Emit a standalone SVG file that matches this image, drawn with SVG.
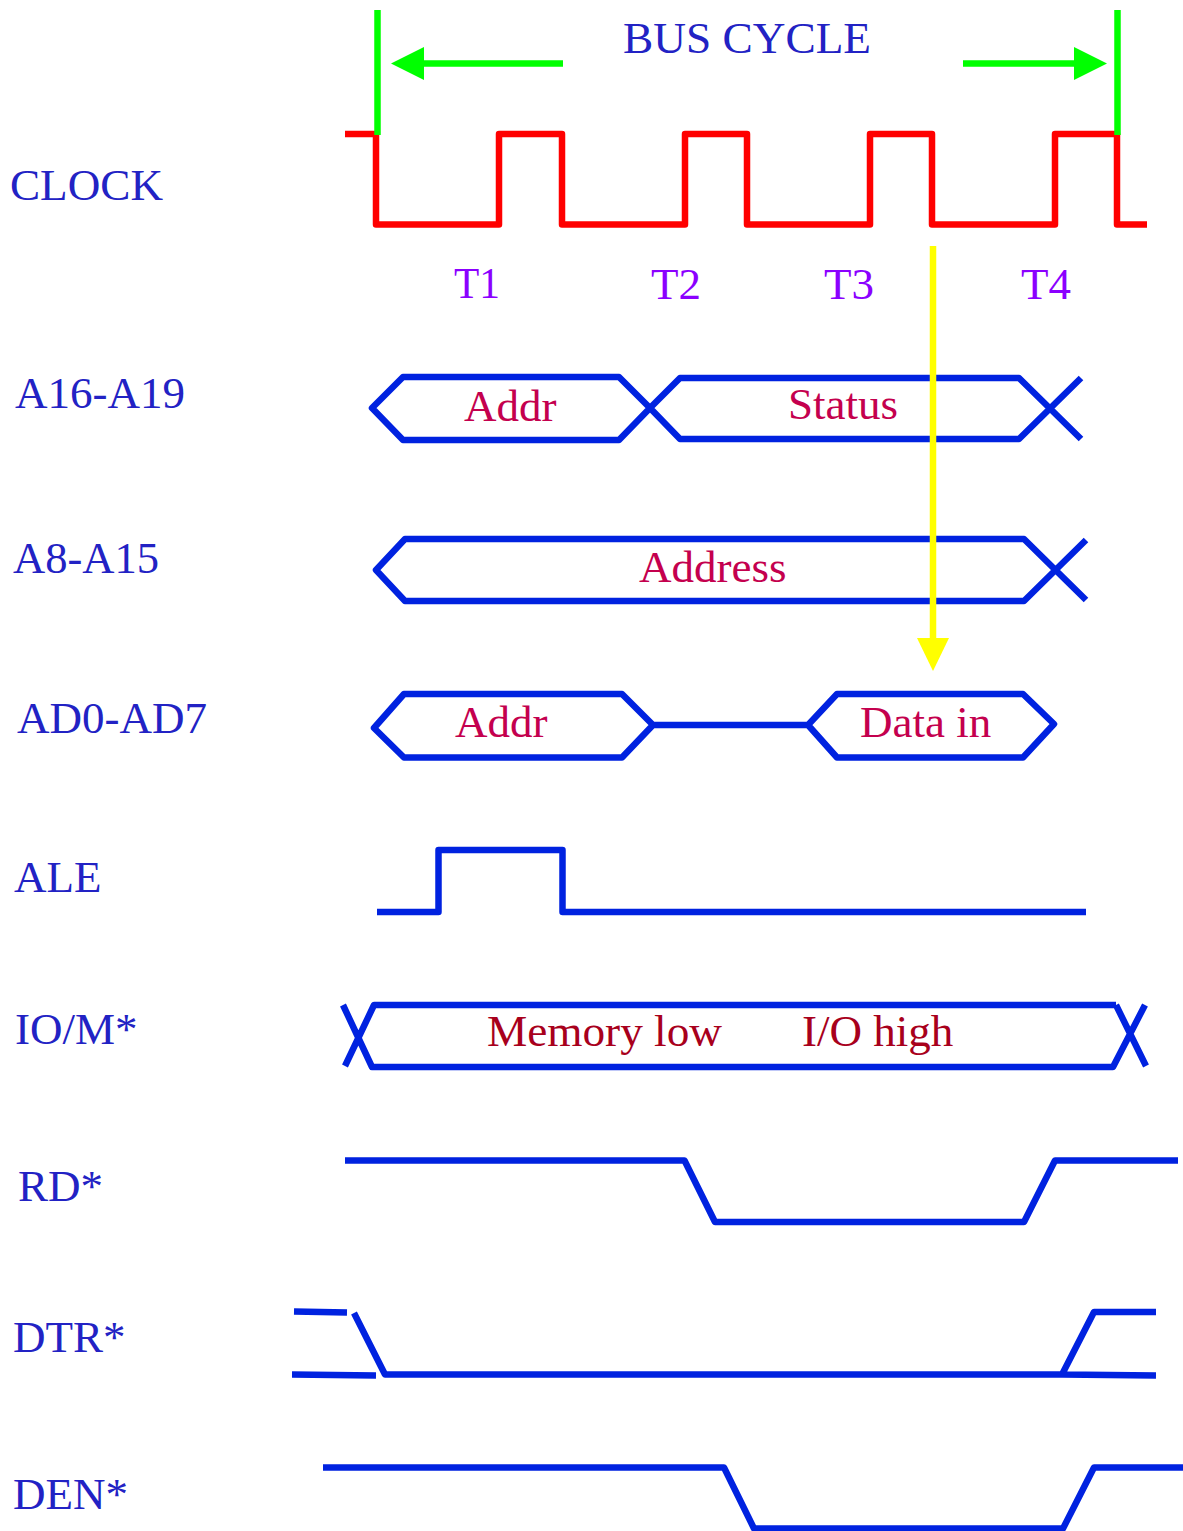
<svg xmlns="http://www.w3.org/2000/svg" width="1183" height="1531" viewBox="0 0 1183 1531">
<style>
text{font-family:"Liberation Serif","Times New Roman",serif;font-size:45px}
.lb{fill:#2222c4}
.t{fill:#8b00ff}
.d{fill:#c4004e}
.m{fill:#a8001c}
.w{fill:none;stroke:#0022e0;stroke-width:6.500;stroke-linejoin:round}
</style>
<rect width="1183" height="1531" fill="#fff"/>
<g id="labels">
<text class="lb" x="10" y="200" textLength="153" lengthAdjust="spacingAndGlyphs">CLOCK</text>
<text class="lb" x="15" y="408" textLength="170" lengthAdjust="spacingAndGlyphs">A16-A19</text>
<text class="lb" x="13" y="573" textLength="146" lengthAdjust="spacingAndGlyphs">A8-A15</text>
<text class="lb" x="17" y="733">AD0-AD7</text>
<text class="lb" x="14" y="892">ALE</text>
<text class="lb" x="15" y="1044">IO/M*</text>
<text class="lb" x="18" y="1201">RD*</text>
<text class="lb" x="13" y="1352">DTR*</text>
<text class="lb" x="13" y="1509">DEN*</text>
<text class="lb" x="623" y="53" textLength="248" lengthAdjust="spacingAndGlyphs">BUS CYCLE</text>
</g>
<g id="clock">
<path fill="none" stroke="#ff0000" stroke-width="6.500" stroke-linejoin="round" d="M345 134H376V224.500H499V134H562V224.500H685V134H747V224.500H870V134H932V224.500H1055V134H1117V224.500H1147"/>
<text class="t" x="454" y="298" textLength="46" lengthAdjust="spacingAndGlyphs">T1</text>
<text class="t" x="651" y="299">T2</text>
<text class="t" x="824" y="299">T3</text>
<text class="t" x="1021" y="299">T4</text>
</g>
<g id="connectors">
<path fill="none" stroke="#00ff00" stroke-width="6.500" d="M377.500 10V135M1117.500 10V135"/>
<path fill="none" stroke="#00ff00" stroke-width="6.500" d="M563 63.500H420M963 63.500H1076"/>
<polygon fill="#00ff00" points="391,63.500 424,47 424,80"/>
<polygon fill="#00ff00" points="1107,63.500 1074,47 1074,80"/>
</g>
<g id="a16">
<path class="w" d="M372 408L403 377H619L650 408L619 440H403Z"/>
<path class="w" d="M650 408L680 378H1019L1081 439M650 408L680 439H1019L1081 378"/>
<text class="d" x="464" y="421">Addr</text>
<text class="d" x="788" y="419">Status</text>
</g>
<g id="a8">
<path class="w" d="M1086 600L1024 539H405L376 570L405 601H1024L1086 540"/>
<text class="d" x="639" y="582">Address</text>
</g>
<g id="ad0">
<path class="w" d="M374 728L404 694H622L653 725L622 757.500H404ZM653 725H808M808 725L837 694H1023L1054 724L1023 757.500H837Z"/>
<text class="d" x="455" y="737">Addr</text>
<text class="d" x="860" y="737">Data in</text>
</g>
<g id="ale">
<path class="w" d="M377 912H438.500V850H562.500V912H1086"/>
</g>
<g id="iom">
<path class="w" d="M343 1005L372 1067H1113L1145 1005M1116 1005H374L345 1066M1116 1005L1146 1066"/>
<text class="m" x="487" y="1046" textLength="235" lengthAdjust="spacingAndGlyphs">Memory low</text>
<text class="m" x="802" y="1046">I/O high</text>
</g>
<g id="rd">
<path class="w" d="M345 1160.500H684.500L715 1222H1024L1055 1160.500H1178"/>
</g>
<g id="dtr">
<path class="w" d="M294 1311.500L347 1312.500M354 1313L385 1374.500H1062L1094 1312H1156M292 1374.500L376 1375.500M1062 1374.500L1156 1375.500"/>
</g>
<g id="den">
<path class="w" d="M323 1467.500H724L754 1528.500H1063L1094 1467.500H1183"/>
</g>
<g id="yellow">
<path fill="none" stroke="#ffff00" stroke-width="6.500" d="M933 246V640"/>
<polygon fill="#ffff00" points="933,671 917,638 949,638"/>
</g>
</svg>
